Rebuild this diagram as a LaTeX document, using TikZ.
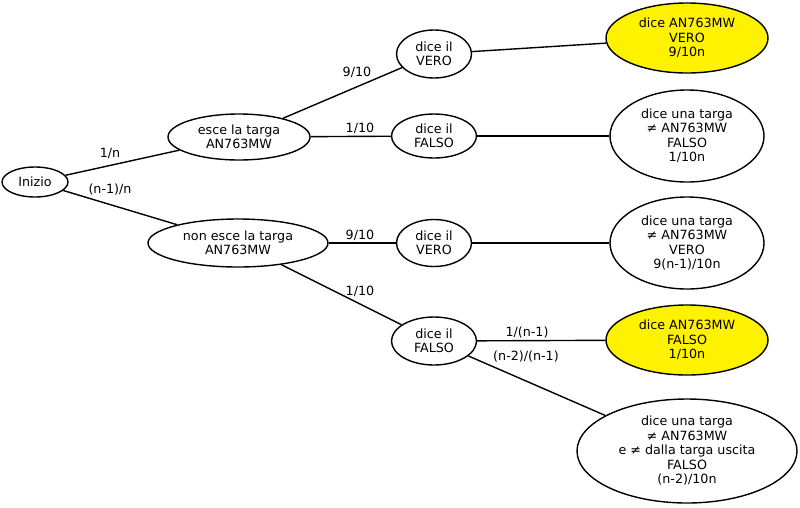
\documentclass[tikz,border=0pt]{standalone}
\usepackage{fontspec}
\setmainfont{DejaVu Sans}
\usetikzlibrary{shapes.geometric}
\begin{document}
\begin{tikzpicture}[x=1pt,y=-1pt,
  every node/.style={font=\fontsize{12.7}{14.5}\selectfont},
  st/.style={ellipse,draw,line width=1.4pt,inner sep=0pt,align=center},
  hl/.style={st,fill=yellow},
  lab/.style={inner sep=0pt},
  conn/.style={line width=1.4pt}]
\useasboundingbox (0,0) rectangle (800,507);
\node[st,minimum width=66,minimum height=30] (ini) at (35,182) {Inizio};
\node[st,minimum width=142,minimum height=46] (esce) at (239,137) {esce la targa\\AN763MW};
\node[st,minimum width=180,minimum height=48] (non) at (238,243) {non esce la targa\\AN763MW};
\node[st,minimum width=75,minimum height=48] (v1) at (434,54) {dice il\\VERO};
\node[st,minimum width=85,minimum height=44] (f1) at (434,136) {dice il\\FALSO};
\node[st,minimum width=75,minimum height=47] (v2) at (434,243) {dice il\\VERO};
\node[st,minimum width=85,minimum height=48] (f2) at (434,341) {dice il\\FALSO};
\node[hl,minimum width=162,minimum height=70] (r1) at (687,38) {dice AN763MW\\VERO\\9/10n};
\node[st,minimum width=154,minimum height=92] (r2) at (687,136) {dice una targa\\≠ AN763MW\\FALSO\\1/10n};
\node[st,minimum width=154,minimum height=92] (r3) at (687,243) {dice una targa\\≠ AN763MW\\VERO\\9(n-1)/10n};
\node[hl,minimum width=162,minimum height=70] (r4) at (687,340) {dice AN763MW\\FALSO\\1/10n};
\node[st,minimum width=220,minimum height=104] (r5) at (687,451) {dice una targa\\≠ AN763MW\\e ≠ dalla targa uscita\\FALSO\\(n-2)/10n};
\draw[conn] (ini) -- (esce);
\draw[conn] (ini) -- (non);
\draw[conn] (esce) -- (v1);
\draw[conn] (esce) -- (f1);
\draw[conn] (non) -- (v2);
\draw[conn] (non) -- (f2);
\draw[conn] (v1) -- (r1);
\draw[conn] (f1) -- (r2);
\draw[conn] (v2) -- (r3);
\draw[conn] (f2) -- (r4);
\draw[conn] (f2) -- (r5);
\node[lab] (l1) at (110,153) {1/n};
\node[lab] (l2) at (110,190) {(n-1)/n};
\node[lab] (l3) at (357,72) {9/10};
\node[lab] (l4) at (360,128) {1/10};
\node[lab] (l5) at (360,235) {9/10};
\node[lab] (l6) at (360,291) {1/10};
\node[lab] (l7) at (527,333) {1/(n-1)};
\node[lab] (l8) at (526,357) {(n-2)/(n-1)};
\end{tikzpicture}
\end{document}
